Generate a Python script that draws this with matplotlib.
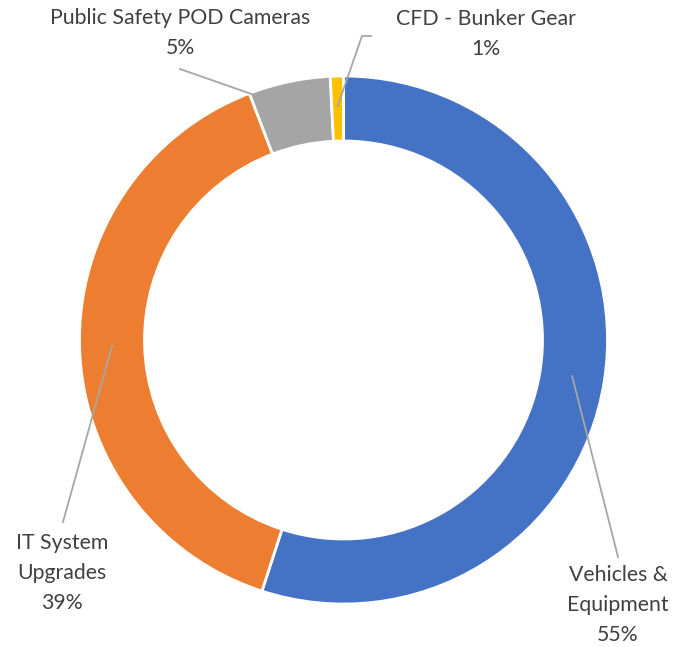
import numpy as np
import matplotlib
matplotlib.use("Agg")
import matplotlib.pyplot as plt

categories = ["Vehicles &\nEquipment", "IT System\nUpgrades", "Public Safety POD Cameras", "CFD - Bunker Gear"]
values = [55.0, 39.2, 5.0, 0.8]
pct_labels = ["55%", "39%", "5%", "1%"]
colors = ["#4472C4", "#ED7D31", "#A5A5A5", "#FFC000"]

W, H = 689, 647
fig = plt.figure(figsize=(W / 100, H / 100), dpi=100)
ax = fig.add_axes([0, 0, 1, 1])

cx, cy = 343.5, H - 340
R, width = 264, 65
wedges, _ = ax.pie(values, colors=colors, startangle=90, counterclock=False,
                   radius=R, center=(cx, cy),
                   wedgeprops=dict(width=width, edgecolor="white", linewidth=2))
ax.set_xlim(0, W)
ax.set_ylim(0, H)
ax.set_aspect("equal")
ax.axis("off")

font = dict(family=["Lato", "DejaVu Sans"], fontsize=15.3, color="#404040",
            ha="center", va="center", linespacing=1.6)
line_kw = dict(color="#A6A6A6", lw=1.3)

def polar(theta_deg, r):
    t = np.deg2rad(theta_deg)
    return cx + r * np.cos(t), cy + r * np.sin(t)

mid_r = R - width / 2
# label text positions (pixel coords, y from top) and leader ends
label_pos = [(618, 605), (62, 573), (180, 33), (486, 34)]
leader_end = [(618, 557), (63, 522), (180, 69), None]

for i, w in enumerate(wedges):
    mid = (w.theta1 + w.theta2) / 2
    lx, ly = label_pos[i]
    ax.text(lx, H - ly, categories[i] + "\n" + pct_labels[i], **font)
    if i in (0, 1):
        sx, sy = polar(mid, mid_r)
        ex, ey = leader_end[i]
        ax.plot([sx, ex], [sy, H - ey], **line_kw)
    elif i == 2:
        sx, sy = polar(w.theta2 - 0.8, R - 3)
        ex, ey = leader_end[i]
        ax.plot([sx, ex], [sy, H - ey], **line_kw)
    else:
        sx, sy = polar(mid, R - 30)
        ax.plot([sx, 362, 371], [sy, H - 36, H - 36], **line_kw)

fig.savefig("out.png", dpi=100)
